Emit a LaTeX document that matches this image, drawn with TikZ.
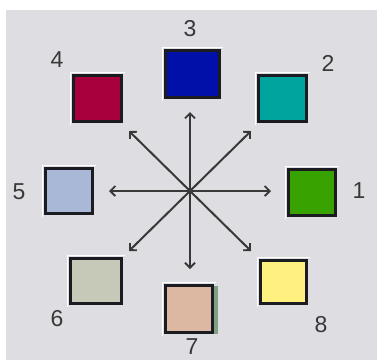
\documentclass[tikz,border=0pt]{standalone}
\usepackage{fontspec}
\setmainfont{Liberation Sans}
\usetikzlibrary{arrows.meta}
\definecolor{bg}{HTML}{DEDEE2}
\definecolor{ink}{HTML}{383838}
\definecolor{c1}{HTML}{38A200}
\definecolor{c2}{HTML}{00A49E}
\definecolor{c3}{HTML}{0010A8}
\definecolor{c4}{HTML}{A8003C}
\definecolor{c5}{HTML}{A8B8D6}
\definecolor{c6}{HTML}{C6C9B8}
\definecolor{c7}{HTML}{DCB8A2}
\definecolor{c8}{HTML}{FFF080}
\definecolor{strip}{HTML}{7FA085}
\definecolor{edge}{HTML}{1A1C22}
\begin{document}
\begin{tikzpicture}[x=1pt,y=-1pt,
  swatch/.style={draw=edge,line width=3pt,inner sep=0pt,outer sep=0pt,rectangle},
  lbl/.style={text=ink,font=\fontsize{23}{23}\selectfont,inner sep=0pt},
  ray/.style={draw=ink,line width=2pt,-{Straight Barb[length=5pt,width=10pt,line width=1.8pt]}}]
\useasboundingbox (0,0) rectangle (377,360);
\fill[white] (0,0) rectangle (377,360);
\fill[bg] (6,10) rectangle (377,360);
% highlight edges
\foreach \a/\b/\c/\d in {287/168/337/217,257/74/308/123,164/49/221/99,72/74/123/123,44/167/94/215,69/257/123/305,164/284/214/334,259/259/308/305}
  \draw[white,line width=1.5pt] (\a-1.5,\d+1.5) -- (\a-1.5,\b-1.5) -- (\c+1.5,\b-1.5);
\fill[strip] (214,286) rectangle (218,334);
% swatches
\node[swatch,fill=c1,minimum width=47pt,minimum height=46pt] (b1) at (312,192.5) {};
\node[swatch,fill=c2,minimum width=48pt,minimum height=46pt] (b2) at (282.5,98.5) {};
\node[swatch,fill=c3,minimum width=54pt,minimum height=47pt] (b3) at (192.5,74) {};
\node[swatch,fill=c4,minimum width=48pt,minimum height=46pt] (b4) at (97.5,98.5) {};
\node[swatch,fill=c5,minimum width=47pt,minimum height=45pt] (b5) at (69,191) {};
\node[swatch,fill=c6,minimum width=51pt,minimum height=45pt] (b6) at (96,281) {};
\node[swatch,fill=c7,minimum width=47pt,minimum height=47pt] (b7) at (189,309) {};
\node[swatch,fill=c8,minimum width=46pt,minimum height=43pt] (b8) at (283.5,282) {};
% labels
\node[lbl] (l1) at (359,191) {1};
\node[lbl] (l2) at (328,63) {2};
\node[lbl] (l3) at (190,29) {3};
\node[lbl] (l4) at (57,60) {4};
\node[lbl] (l5) at (19,192) {5};
\node[lbl] (l6) at (57,319) {6};
\node[lbl] (l7) at (192,347) {7};
\node[lbl] (l8) at (321,325) {8};
% arrows
\node[circle,fill=black,inner sep=0pt,minimum size=6pt] (c) at (190,191) {};
\coordinate (t1) at (271,191);
\coordinate (t2) at (251,131);
\coordinate (t3) at (190,112);
\coordinate (t4) at (129,131);
\coordinate (t5) at (109,191);
\coordinate (t6) at (129,251);
\coordinate (t7) at (190,269);
\coordinate (t8) at (251,251);
\foreach \i in {1,...,8} \draw[ray] (c.center) -- (t\i);
\end{tikzpicture}
\end{document}
